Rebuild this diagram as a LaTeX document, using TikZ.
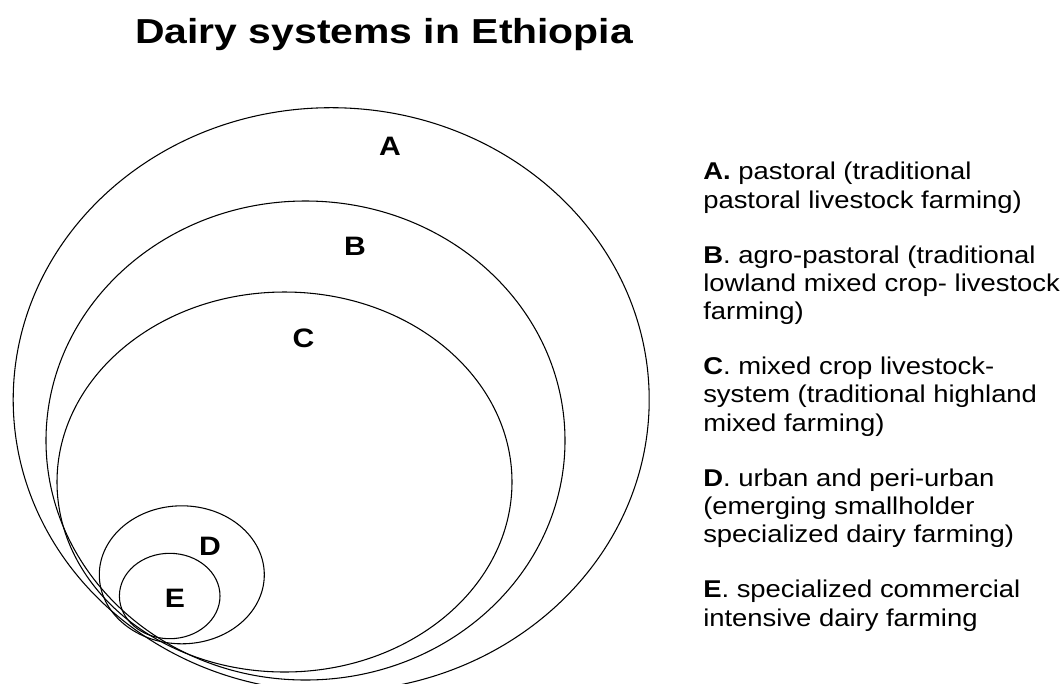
\documentclass[tikz,border=0pt]{standalone}
\usepackage{fontspec}
\usepackage{tikz}
\newfontfamily\legendfont[FakeStretch=1.13]{Liberation Sans}
\newfontfamily\titlefont[FakeStretch=1.18]{Liberation Sans}

\begin{document}
\begin{tikzpicture}[x=0.75pt, y=-0.75pt,
    ring/.style={line width=0.8pt},
    tag/.style={font=\legendfont\fontsize{20}{24}\selectfont\bfseries},
    legend/.style={anchor=base west, inner sep=0pt, align=left,
      font=\legendfont\fontsize{18.2}{21.2}\selectfont}]
  \useasboundingbox (0,0) rectangle (1064,683);

  \node[anchor=base west, inner sep=0pt, font=\titlefont\fontsize{26}{30}\selectfont\bfseries]
    (title) at (135,43.3) {Dairy systems in Ethiopia};

  \foreach \cx/\cy/\rx/\ry in {331.2/399.7/318/292, 305.5/440.5/259.5/239.5,
      284.5/482/227.5/190, 181.8/574.8/82.5/69, 169.7/596/50.3/42.7} {
    \draw[ring] (\cx,\cy) ellipse [x radius=\rx, y radius=\ry];
  }

  \foreach \n/\px/\py in {A/390/146.7, B/355/246.7, C/303.6/338.5, D/210/546.7, E/175/598.3} {
    \node[tag] (lbl\n) at (\px,\py) {\n};
  }

  \node[legend] (legA) at (703,208) {\textbf{A.} pastoral (traditional\\pastoral livestock farming)};
  \node[legend] (legB) at (703,319.6) {\textbf{B}. agro-pastoral (traditional\\lowland mixed crop- livestock\\farming)};
  \node[legend] (legC) at (703,431.2) {\textbf{C}. mixed crop livestock-\\system (traditional highland\\mixed farming)};
  \node[legend] (legD) at (703,542.8) {\textbf{D}. urban and peri-urban\\(emerging smallholder\\specialized dairy farming)};
  \node[legend] (legE) at (703,626.1) {\textbf{E}. specialized commercial\\intensive dairy farming};
\end{tikzpicture}
\end{document}
